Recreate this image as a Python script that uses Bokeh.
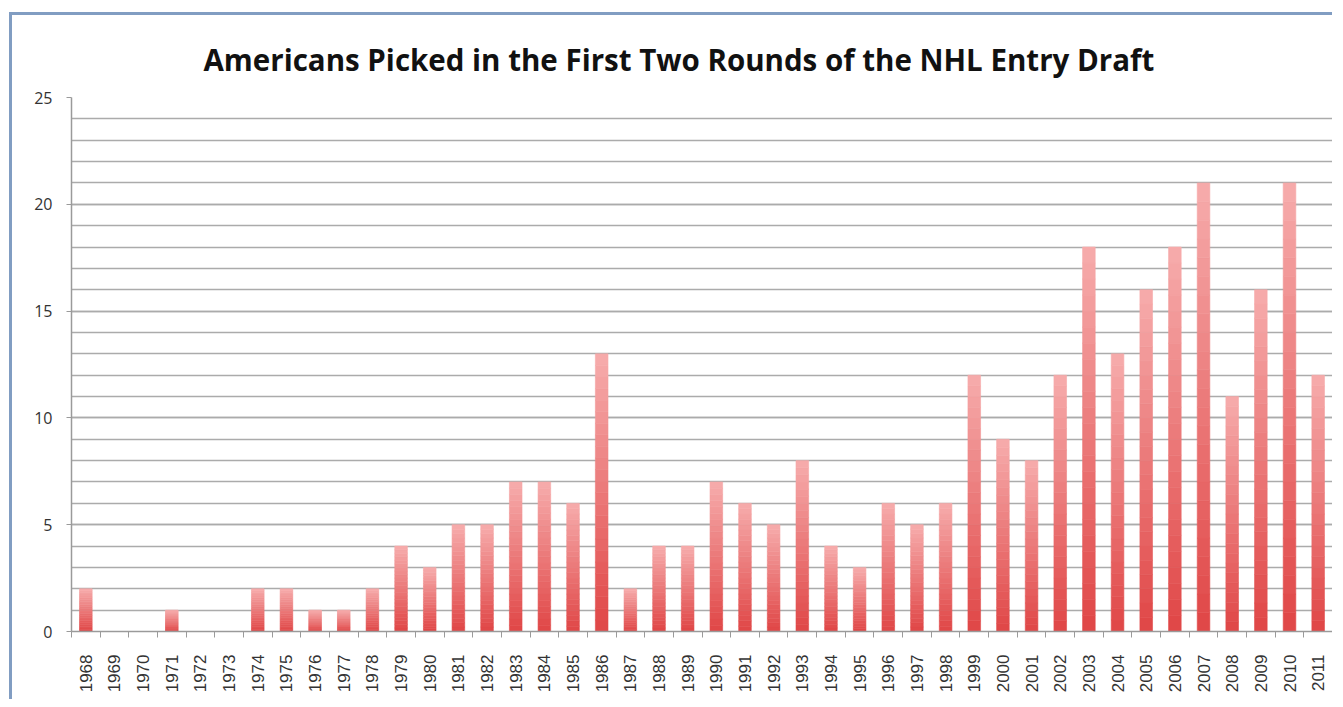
from bokeh.plotting import figure
from bokeh.models import FixedTicker, Range1d, ColumnDataSource
from bokeh.embed import file_html
from bokeh.resources import INLINE
from math import pi

years = ["1968", "1969", "1970", "1971", "1972", "1973", "1974", "1975", "1976", "1977",
         "1978", "1979", "1980", "1981", "1982", "1983", "1984", "1985", "1986", "1987",
         "1988", "1989", "1990", "1991", "1992", "1993", "1994", "1995", "1996", "1997",
         "1998", "1999", "2000", "2001", "2002", "2003", "2004", "2005", "2006", "2007",
         "2008", "2009", "2010", "2011"]
picks = [2, 0, 0, 1, 0, 0, 2, 2, 1, 1,
         2, 4, 3, 5, 5, 7, 7, 6, 13, 2,
         4, 4, 7, 6, 5, 8, 4, 3, 6, 5,
         6, 12, 9, 8, 12, 18, 13, 16, 18, 21,
         11, 16, 21, 12]
y_major = [0, 5, 10, 15, 20, 25]
y_minor = list(range(0, 26))

# gradient colours (bottom -> top)
c_bottom = (224, 72, 72)
c_top = (246, 170, 170)
N = 24

xs, bots, tops, cols = [], [], [], []
for i, v in enumerate(picks):
    if v <= 0:
        continue
    for k in range(N):
        t = k / (N - 1)
        r = round(c_bottom[0] + (c_top[0] - c_bottom[0]) * t)
        g = round(c_bottom[1] + (c_top[1] - c_bottom[1]) * t)
        b = round(c_bottom[2] + (c_top[2] - c_bottom[2]) * t)
        xs.append(i)
        bots.append(v * k / N)
        tops.append(v * (k + 1) / N)
        cols.append("#%02x%02x%02x" % (r, g, b))
src = ColumnDataSource(dict(x=xs, bottom=bots, top=tops, color=cols))

p = figure(width=1323, height=687, output_backend="svg", toolbar_location=None,
           x_range=Range1d(-0.5, len(years) - 0.5), y_range=Range1d(0, 25),
           min_border_left=59, min_border_right=3, min_border_bottom=71, min_border_top=82,
           margin=(12, 0, 0, 9),
           styles={"border-left": "3px solid #819dc2", "border-top": "3px solid #819dc2"})
p.title.text = "Americans Picked in the First Two Rounds of the NHL Entry Draft"
p.title.text_font = "Open Sans"
p.title.text_font_style = "bold"
p.title.text_font_size = "29.5px"
p.title.text_color = "#111111"
p.title.align = "left"
p.title.offset = 132
p.title.standoff = 35

p.vbar(x="x", bottom="bottom", top="top", width=0.44, source=src,
       fill_color="color", line_color="color", line_width=0.6)

p.outline_line_color = None
p.background_fill_color = "white"
p.border_fill_color = "white"

p.xgrid.grid_line_color = None
p.ygrid.ticker = FixedTicker(ticks=y_major, minor_ticks=y_minor)
p.ygrid.grid_line_color = "#ababab"
p.ygrid.grid_line_width = 1.5
p.ygrid.minor_grid_line_color = "#ababab"
p.ygrid.minor_grid_line_width = 1.5

ya = p.yaxis[0]
ya.ticker = FixedTicker(ticks=y_major, minor_ticks=y_minor)
ya.axis_line_color = "#9a9a9a"
ya.axis_line_width = 1.5
ya.major_tick_line_color = "#9a9a9a"
ya.major_tick_out = 5
ya.major_tick_in = 0
ya.minor_tick_out = 0
ya.minor_tick_in = 0
ya.major_label_text_font = "Open Sans"
ya.major_label_text_font_size = "16px"
ya.major_label_text_color = "#333333"
ya.major_label_standoff = 14

xa = p.xaxis[0]
xa.ticker = FixedTicker(ticks=list(range(len(years))),
                        minor_ticks=[i - 0.5 for i in range(len(years) + 1)])
xa.major_label_overrides = {i: y for i, y in enumerate(years)}
xa.major_label_orientation = pi / 2
xa.major_tick_out = 0
xa.major_tick_in = 0
xa.minor_tick_out = 6
xa.minor_tick_in = 0
xa.minor_tick_line_color = "#9a9a9a"
xa.axis_line_color = "#9a9a9a"
xa.axis_line_width = 1.5
xa.major_label_text_font = "Liberation Sans"
xa.major_label_text_font_size = "17px"
xa.major_label_text_color = "#333333"
xa.major_label_standoff = 17

open("out.html", "w").write(file_html(p, INLINE))
